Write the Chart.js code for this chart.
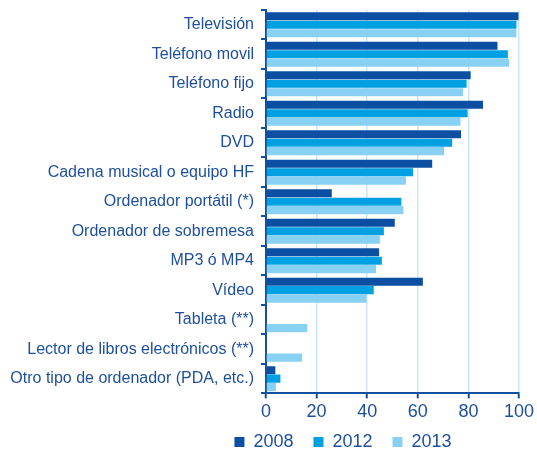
<!DOCTYPE html>
<html>
<head>
<meta charset="utf-8">
<script src="https://cdn.jsdelivr.net/npm/chart.js@4/dist/chart.umd.min.js"></script>
<style>
html,body{margin:0;padding:0;background:#fff;}
#wrap{width:537px;height:456px;position:relative;}
</style>
</head>
<body>
<div id="wrap"><canvas id="c" width="537" height="456"></canvas></div>
<script>
const categories = [
  "Televisión","Teléfono movil","Teléfono fijo","Radio","DVD",
  "Cadena musical o equipo HF","Ordenador portátil (*)","Ordenador de sobremesa",
  "MP3 ó MP4","Vídeo","Tableta (**)","Lector de libros electrónicos (**)",
  "Otro tipo de ordenador (PDA, etc.)"
];
const seriesNames = ["2008","2012","2013"];
const values2008 = [99.8, 91.5, 80.9, 85.8, 77.1, 65.7, 26.0, 50.9, 44.7, 62.0, null, null, 3.7];
const values2012 = [99.0, 95.6, 79.3, 79.7, 73.6, 58.1, 53.5, 46.6, 45.8, 42.6, null, null, 5.7];
const values2013 = [99.0, 96.1, 77.9, 76.9, 70.4, 55.3, 54.3, 45.0, 43.5, 39.7, 16.3, 14.3, 3.9];
const xTicks = [0, 20, 40, 60, 80, 100];

const textColor = "#1d4f9e";
const axisColor = "#1450a0";
const colors = ["#0b4fa3", "#00a0e3", "#88d1f3"];

const legendTune = {
  id: "legendTune",
  afterLayout(chart) {
    const lg = chart.legend;
    if (!lg) return;
    const target = 352;
    const d = target - (lg.left + lg.right) / 2;
    lg.left += d; lg.right += d;
    lg.top += 5; lg.bottom += 5;
  }
};

new Chart(document.getElementById("c"), {
  type: "bar",
  data: {
    labels: categories,
    datasets: [values2008, values2012, values2013].map((v, i) => ({
      label: seriesNames[i],
      data: v,
      backgroundColor: colors[i],
      borderWidth: 0,
      categoryPercentage: 0.86,
      barPercentage: 0.96
    }))
  },
  plugins: [legendTune],
  options: {
    indexAxis: "y",
    responsive: false,
    animation: false,
    layout: { padding: { top: 10, right: 17, left: 0, bottom: 0 } },
    plugins: {
      tooltip: { enabled: false },
      legend: {
        position: "bottom",
        labels: {
          color: textColor,
          font: { family: "Liberation Sans", size: 18 },
          boxWidth: 10,
          boxHeight: 10,
          padding: 2,
          generateLabels: chart =>
            Chart.defaults.plugins.legend.labels.generateLabels(chart)
              .map(l => Object.assign(l, { text: l.text + "\u2002\u2002" }))
        }
      }
    },
    scales: {
      x: {
        min: 0, max: 100,
        afterBuildTicks: s => { s.ticks = xTicks.map(v => ({ value: v })); },
        grid: { color: "#c9e8f6", lineWidth: 1.5, tickColor: axisColor, tickLength: 5, tickWidth: 2 },
        border: { color: axisColor, width: 2 },
        ticks: { color: textColor, font: { family: "Liberation Sans", size: 18 }, padding: 3 }
      },
      y: {
        grid: { drawOnChartArea: false, color: axisColor, tickLength: 5, lineWidth: 2, offset: true },
        border: { color: axisColor, width: 2 },
        ticks: { color: textColor, font: { family: "Liberation Sans", size: 16 }, padding: 7, autoSkip: false },
        afterFit: s => { s.width = 266; s.paddingTop = 0; s.paddingBottom = 0; }
      }
    }
  }
});
</script>
</body>
</html>
